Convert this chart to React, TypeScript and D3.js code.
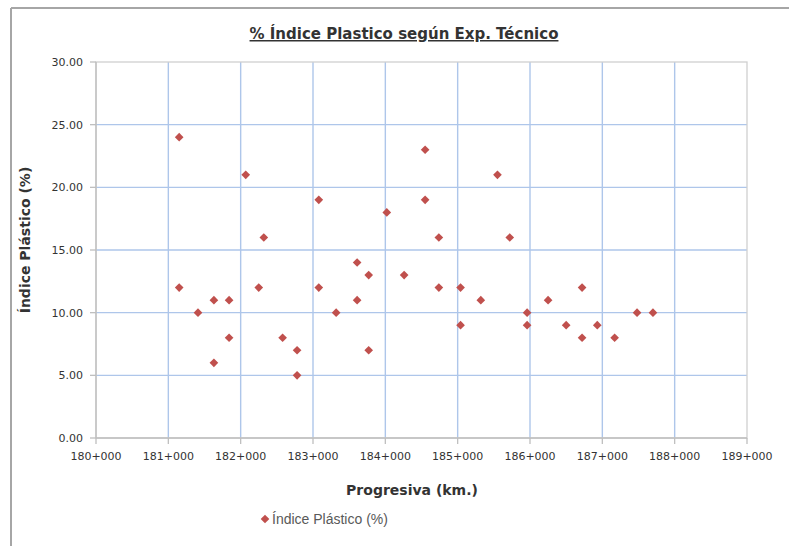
import React from "react";
import * as d3 from "d3";

const progresiva: number[] = [
  181.15, 182.07, 183.08, 182.32, 181.15, 182.25, 183.08, 181.63, 181.84, 181.41,
  183.32, 181.84, 182.58, 182.78, 181.63, 182.78,
  184.55, 185.55, 184.55, 184.02, 184.74, 185.72, 183.61, 183.77, 184.26, 184.74,
  185.04, 183.61, 185.32, 185.96, 185.04, 185.96, 183.77,
  186.25, 186.72, 186.5, 186.72, 186.93, 187.17, 187.48, 187.7,
];
const indicePlastico: number[] = [
  24, 21, 19, 16, 12, 12, 12, 11, 11, 10,
  10, 8, 8, 7, 6, 5,
  23, 21, 19, 18, 16, 16, 14, 13, 13, 12,
  12, 11, 11, 10, 9, 9, 7,
  11, 12, 9, 8, 9, 8, 10, 10,
];
const xTicks: number[] = [180, 181, 182, 183, 184, 185, 186, 187, 188, 189];
const yTicks: number[] = [0, 5, 10, 15, 20, 25, 30];

const title = "% Índice Plastico según Exp. Técnico";
const xTitle = "Progresiva (km.)";
const yTitle = "Índice Plástico (%)";
const legendLabel = "Índice Plástico (%)";

const W = 789;
const H = 546;
const left = 96;
const right = 747;
const top = 62;
const bottom = 438;

export default function App() {
  const x = d3.scaleLinear().domain([180, 189]).range([left, right]);
  const y = d3.scaleLinear().domain([0, 30]).range([bottom, top]);
  const diamond = d3.symbol().type(d3.symbolDiamond2).size(48)();
  const fmtX = (v: number) => `${v}+000`;
  const tickFont = "'DejaVu Sans', sans-serif";
  const grid = "#aec6ea";
  return (
    <svg
      width={W}
      height={H}
      style={{ position: "absolute", left: 0, top: 0, background: "#fff" }}
    >
      {/* outer frame */}
      <line x1={11} y1={8} x2={W} y2={8} stroke="#a6a6a6" strokeWidth={2} />
      <line x1={11} y1={8} x2={11} y2={H} stroke="#a6a6a6" strokeWidth={2} />

      {/* title */}
      <text
        x={404}
        y={39}
        textAnchor="middle"
        fontFamily={tickFont}
        fontWeight="bold"
        fontSize={15}
        fill="#333"
        textDecoration="underline"
      >
        {title}
      </text>

      {/* gridlines */}
      {yTicks.filter((t) => t > 0 && t < 30).map((t) => (
        <line key={"gy" + t} x1={left} x2={right} y1={y(t)} y2={y(t)} stroke={grid} strokeWidth={1.4} />
      ))}
      {xTicks.filter((t) => t > 180 && t < 189).map((t) => (
        <line key={"gx" + t} x1={x(t)} x2={x(t)} y1={top} y2={bottom} stroke={grid} strokeWidth={1.4} />
      ))}

      {/* plot border */}
      <rect x={left} y={top} width={right - left} height={bottom - top} fill="none" stroke="#d0d0d0" strokeWidth={1.3} />
      <line x1={left} x2={left} y1={top} y2={bottom} stroke="#bfbfbf" strokeWidth={1.3} />
      <line x1={left} x2={right} y1={bottom} y2={bottom} stroke="#bfbfbf" strokeWidth={1.3} />

      {/* y ticks */}
      {yTicks.map((t) => (
        <g key={"yt" + t}>
          <line x1={left - 6} x2={left} y1={y(t)} y2={y(t)} stroke="#bfbfbf" strokeWidth={1.3} />
          <text x={83} y={y(t) + 4} textAnchor="end" fontFamily={tickFont} fontSize={11} fill="#333">
            {t.toFixed(2)}
          </text>
        </g>
      ))}

      {/* x ticks */}
      {xTicks.map((t) => (
        <g key={"xt" + t}>
          <line x1={x(t)} x2={x(t)} y1={bottom} y2={bottom + 6} stroke="#bfbfbf" strokeWidth={1.3} />
          <text x={x(t)} y={bottom + 22} textAnchor="middle" fontFamily={tickFont} fontSize={11} fill="#333">
            {fmtX(t)}
          </text>
        </g>
      ))}

      {/* axis titles */}
      <text
        x={412}
        y={495}
        textAnchor="middle"
        fontFamily={tickFont}
        fontWeight="bold"
        fontSize={14}
        fill="#333"
      >
        {xTitle}
      </text>
      <text
        transform={`translate(30,${240}) rotate(-90)`}
        textAnchor="middle"
        fontFamily={tickFont}
        fontWeight="bold"
        fontSize={14}
        fill="#333"
      >
        {yTitle}
      </text>

      {/* points */}
      {progresiva.map((p, i) => (
        <path
          key={"pt" + i}
          d={diamond as string}
          transform={`translate(${x(p)},${y(indicePlastico[i])})`}
          fill="#c0504d"
        />
      ))}

      {/* legend */}
      <path d={diamond as string} transform="translate(265,519)" fill="#c0504d" />
      <text x={272} y={524} fontFamily="'Liberation Sans', sans-serif" fontSize={14} fill="#595959">
        {legendLabel}
      </text>
    </svg>
  );
}
